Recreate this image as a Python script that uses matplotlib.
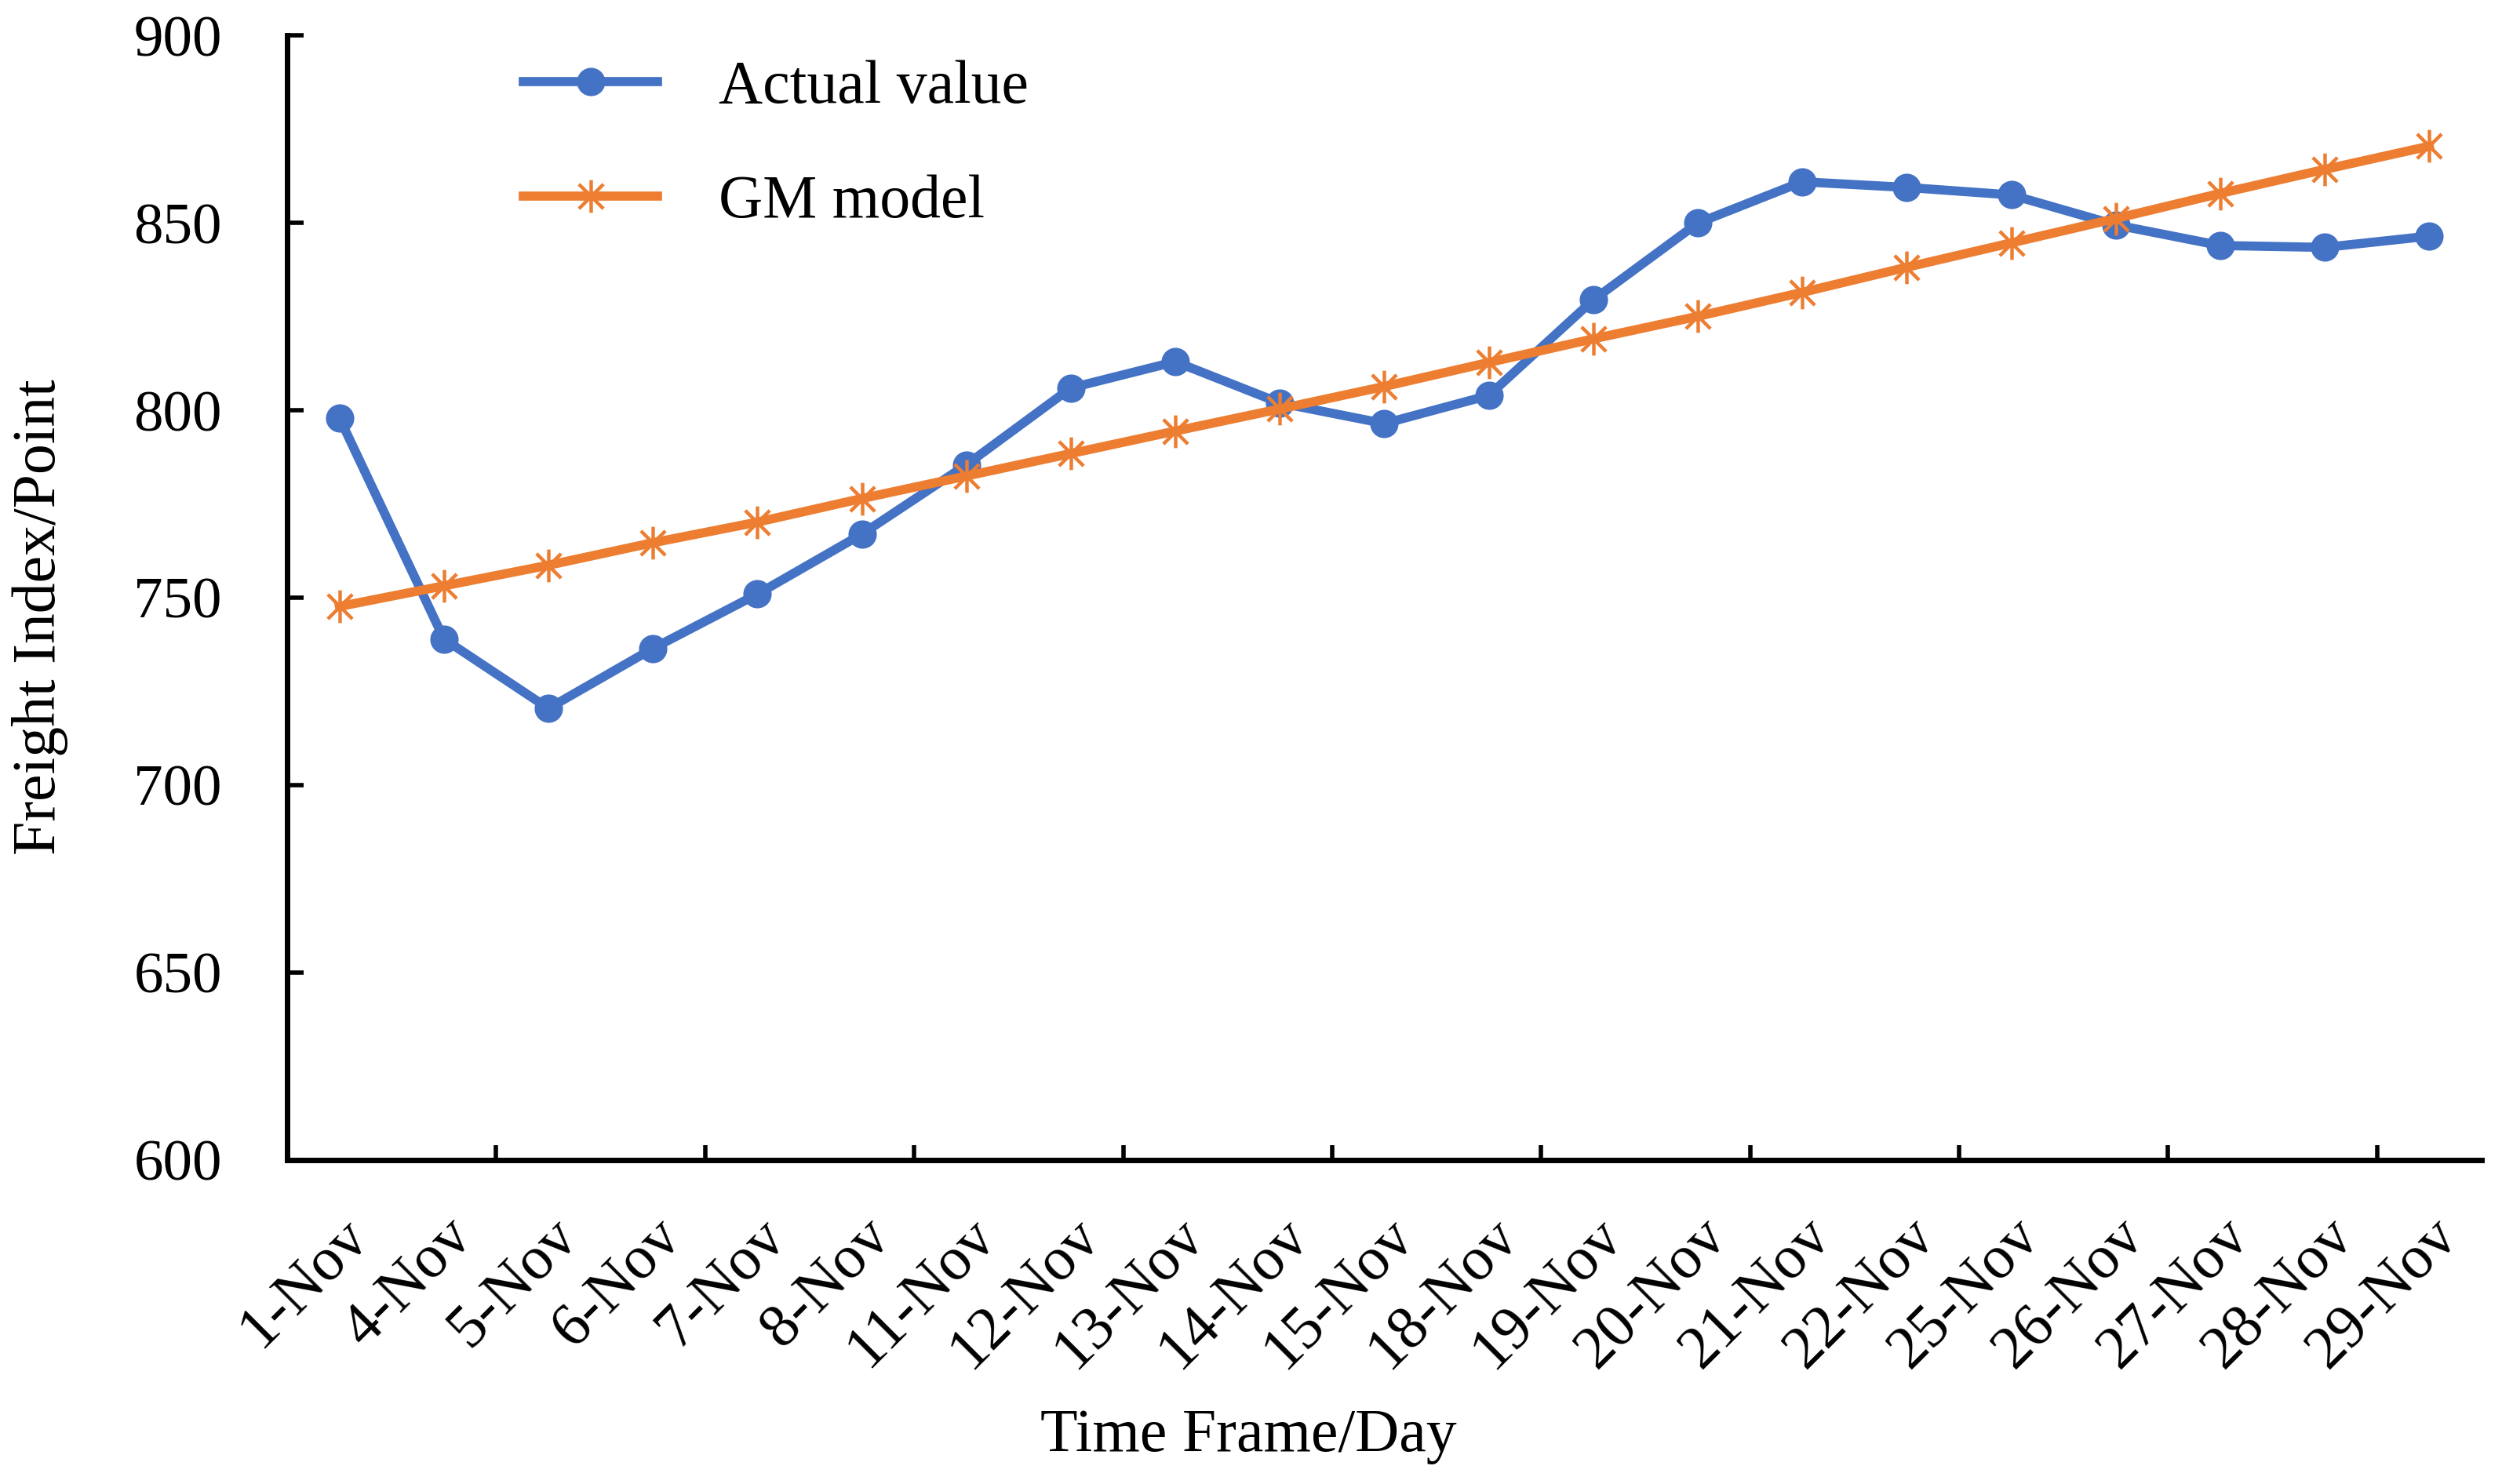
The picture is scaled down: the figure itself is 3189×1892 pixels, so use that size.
import matplotlib
matplotlib.use("Agg")
import matplotlib.pyplot as plt
from matplotlib.path import Path
import numpy as np

plt.rcParams['font.family'] = ['Liberation Serif', 'DejaVu Serif']

# 数据
days = ["1-Nov", "4-Nov", "5-Nov", "6-Nov", "7-Nov", "8-Nov", "11-Nov", "12-Nov",
        "13-Nov", "14-Nov", "15-Nov", "18-Nov", "19-Nov", "20-Nov", "21-Nov",
        "22-Nov", "25-Nov", "26-Nov", "27-Nov", "28-Nov", "29-Nov"]
actual = [798, 739, 720.5, 736.5, 751, 767, 785.5, 806, 813, 802, 796.5, 804,
          829.5, 850, 861, 859.5, 857.5, 849.5, 844, 843.5, 846.5]
gm_model = [747.7, 753.2, 758.7, 764.7, 770.2, 776.5, 782.5, 788.5, 794.5, 800.4,
            806.4, 812.8, 819.1, 825.1, 831.5, 838.2, 844.7, 851.2, 857.9, 864.3, 870.5]
y_ticks = [600, 650, 700, 750, 800, 850, 900]

BLUE = "#4472C4"
ORANGE = "#ED7D31"

# Excel 风格的星号标记：竖线 + 两条对角线
star = Path([(0, -1), (0, 1), (-0.75, -0.75), (0.75, 0.75), (-0.75, 0.75), (0.75, -0.75)],
            [Path.MOVETO, Path.LINETO, Path.MOVETO, Path.LINETO, Path.MOVETO, Path.LINETO])

fig = plt.figure(figsize=(15.945, 9.46), dpi=200)
ax = fig.add_axes([0.1148, 0.2183, 0.877, 0.7577])

x = np.arange(len(days))
ax.plot(x, actual, color=BLUE, linewidth=4.2, marker="o", markersize=12,
        label="Actual value", zorder=3)
ax.plot(x, gm_model, color=ORANGE, linewidth=4.2, marker=star, markersize=15,
        markeredgewidth=1.6, markeredgecolor=ORANGE, markerfacecolor="none",
        label="GM model", zorder=4)

ax.set_xlim(-0.5, len(days) - 0.5)
ax.set_ylim(600, 900)
ax.set_yticks(y_ticks)
ax.tick_params(axis="y", direction="in", length=7.5, width=2, pad=30, labelsize=27)

# 类别标签在中间，刻度线在类别边界（每两个类别一个）
ax.set_xticks(x)
ax.set_xticklabels(days, rotation=45, ha="right", va="top", rotation_mode="anchor")
ax.tick_params(axis="x", which="major", length=0, pad=22, labelsize=28)
ax.set_xticks(np.arange(1.5, len(days) - 1, 2), minor=True)
ax.tick_params(axis="x", which="minor", direction="in", length=7, width=2)

for s in ["top", "right"]:
    ax.spines[s].set_visible(False)
for s in ["left", "bottom"]:
    ax.spines[s].set_linewidth(2.5)

ax.set_ylabel("Freight Index/Point", fontsize=28)
ax.yaxis.set_label_coords(-0.1126, 0.483)
ax.yaxis.label.set_va("center")
ax.set_xlabel("Time Frame/Day", fontsize=28)
ax.xaxis.set_label_coords(0.438, -0.2455)
ax.xaxis.label.set_va("center")

ax.legend(loc="upper left", bbox_to_anchor=(0.1076, 0.978), frameon=False,
          fontsize=28, handlelength=2.2, handletextpad=1.0, labelspacing=0.95,
          borderpad=0, borderaxespad=0)

fig.savefig("out.png", dpi=200, facecolor="white")
plt.close(fig)
